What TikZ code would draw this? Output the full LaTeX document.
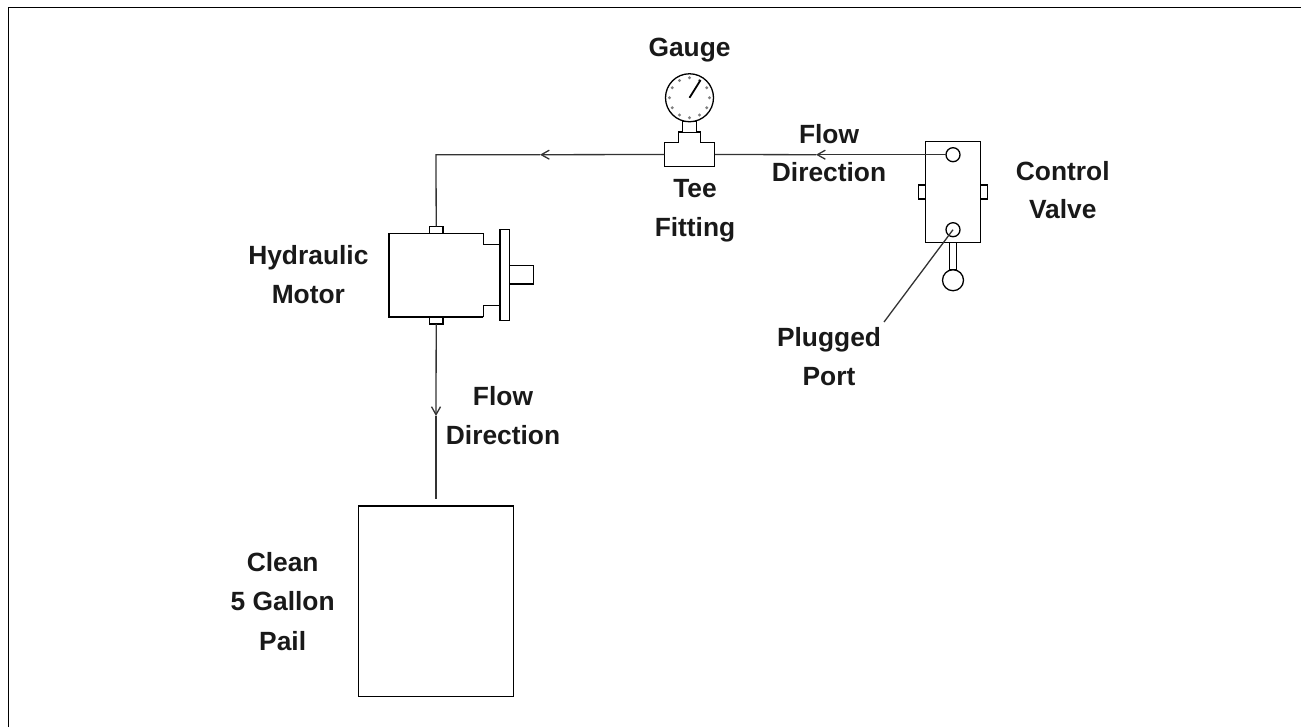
\documentclass[tikz,border=0pt]{standalone}
\usepackage{fontspec}
\setmainfont{Liberation Sans}
\usetikzlibrary{arrows.meta,positioning,calc}

\begin{document}
\begin{tikzpicture}[x=0.02cm,y=-0.02cm,line width=0.026cm,line join=miter,
    part/.style={rectangle,draw,fill=white,inner sep=0pt,outer sep=0pt},
    port/.style={circle,draw,fill=white,inner sep=0pt,outer sep=0pt},
    shell/.style={rectangle,inner sep=0pt,outer sep=0pt},
    caption/.style={align=center,inner sep=0pt,font=\fontsize{15}{21.8}\selectfont\bfseries,text=black!90},
    pipe/.style={draw=black!80},
    flow/.style={pipe,-{Straight Barb[length=0.16cm,width=0.18cm]}}]
    \useasboundingbox (0,0) rectangle (1301,727);
    % frame
    \draw[line width=0.03cm] (8.5,727) -- (8.5,7.5) -- (1301,7.5);

    % control valve
    \node[part,minimum width=1.09cm,minimum height=2.03cm] (valve) at (953,192) {};
    \node[port,minimum size=0.28cm] (porttop) at (953,154.7) {};
    \node[port,minimum size=0.28cm] (portbottom) at (953,229.7) {};
    \node[part,minimum width=0.14cm,minimum height=0.28cm,left=0pt of valve] (tableft) {};
    \node[part,minimum width=0.14cm,minimum height=0.28cm,right=0pt of valve] (tabright) {};
    \node[part,minimum width=0.13cm,minimum height=0.54cm,below=0pt of valve] (handle) {};
    \node[port,minimum size=0.42cm,below=0pt of handle] (knob) {};

    % gauge and tee
    \node[shell,minimum width=1.01cm,minimum height=0.47cm] (tee) at (689.5,154.5) {};
    \draw[fill=white] (tee.south west) -- (tee.north west) -- ++(14,0) -- ++(0,-10.7) -- ++(22,0)
        -- ++(0,10.7) -- (tee.north east) -- (tee.south east) -- cycle;
    \node[part,minimum width=0.29cm,minimum height=0.21cm] (stem) at (689.5,127) {};
    \node[port,minimum size=0.96cm,above=0pt of stem] (dial) {};
    \foreach \ang in {0,30,...,330}
        \fill[black!50] (dial.center) ++(\ang:20) circle[radius=0.032cm];
    \draw[line width=0.036cm] (dial.center) -- ++(11,-17.6);

    % motor
    \node[shell,minimum width=1.886cm,minimum height=1.674cm] (motor) at (436.2,275.2) {};
    \draw (motor.south east) -- (motor.south west) -- (motor.north west) -- (motor.north east)
        -- ++(0,11) -- ++(16.7,0);
    \draw (motor.south east) -- ++(0,-11.3) -- ++(16.7,0);
    \node[part,minimum width=0.186cm,minimum height=1.82cm,anchor=west] (flange) at (500,274.8) {};
    \node[part,minimum width=0.48cm,minimum height=0.366cm,right=0pt of flange] (shaft) {};
    \node[part,minimum width=0.27cm,minimum height=0.14cm,above=0pt of motor] (inlet) {};
    \node[part,minimum width=0.27cm,minimum height=0.14cm,below=0pt of motor] (outlet) {};

    % pail
    \node[part,minimum width=3.11cm,minimum height=3.81cm] (pail) at (436,601.3) {};

    % piping
    \coordinate (flowupper) at (816,154.7);
    \coordinate (flowmiddle) at (540,154.7);
    \coordinate (corner) at (436,154.7);
    \coordinate (flowlower) at (436,416);
    \coordinate (pailend) at (436,499);
    \coordinate (leaderend) at (884,322);
    \draw[flow] (porttop.west) -- (flowupper);
    \draw[pipe] (flowupper) -- (tee.east);
    \draw[flow] (tee.west) -- (flowmiddle);
    \draw[pipe] (flowmiddle) -- (corner) -- (inlet.north);
    \draw[flow] (outlet.south) -- (flowlower);
    \draw[pipe] (flowlower) -- (pailend);
    \draw[pipe] (portbottom.center) -- (leaderend);

    % captions
    \node[caption,above=0.22cm of dial] (gaugetext) {Gauge};
    \node[caption,below=0.24cm of tee,xshift=0.11cm] (teetext) {Tee\\[0.6pt]Fitting};
    \node[caption,left=0.4cm of motor,yshift=0.01cm] (motortext) {Hydraulic\\Motor};
    \node[caption,right=0.56cm of tabright,yshift=0.04cm] (valvetext) {Control\\Valve};
    \node[caption] (flowtexta) at (829,153) {Flow\\Direction};
    \node[caption] (flowtextb) at (503,415.5) {Flow\\Direction};
    \node[caption,below=0.1cm of leaderend,xshift=-1.1cm] (plugtext) {Plugged\\Port};
    \node[caption,left=0.46cm of pail] (pailtext) {Clean\\[0.6pt]5 Gallon\\[0.6pt]Pail};
\end{tikzpicture}
\end{document}
